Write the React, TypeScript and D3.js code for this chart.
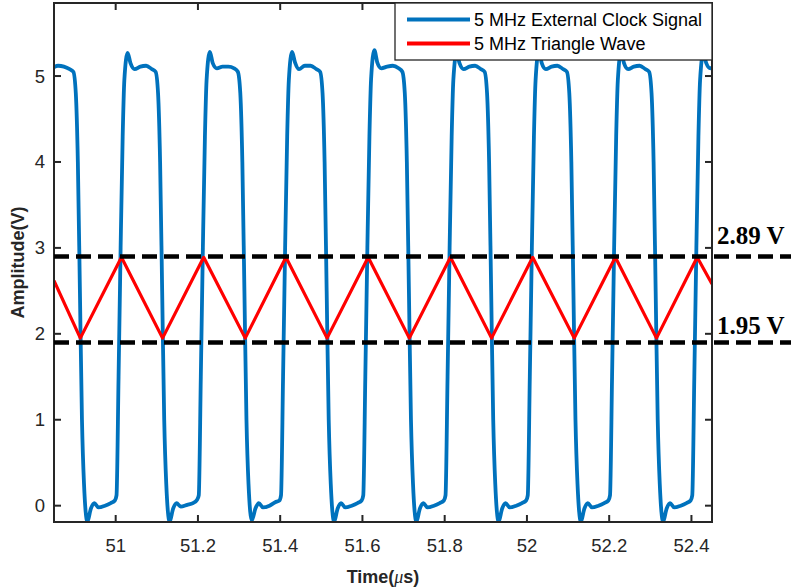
import React from "react";
import * as d3 from "d3";

const W = 791;
const H = 588;
const PLOT = { left: 54, right: 712, top: 3, bottom: 522 };

const xDomain: [number, number] = [50.85, 52.45];
const yDomain: [number, number] = [-0.19, 5.85];
const xTicks = [51, 51.2, 51.4, 51.6, 51.8, 52, 52.2, 52.4];
const xTickLabels = ["51", "51.2", "51.4", "51.6", "51.8", "52", "52.2", "52.4"];
const yTicks = [0, 1, 2, 3, 4, 5];
const yTickLabels = ["0", "1", "2", "3", "4", "5"];

const seriesNames = ["5 MHz External Clock Signal", "5 MHz Triangle Wave"];
const seriesColors = ["#0072BD", "#FF0000"];

const levelValues = [2.9, 1.9];
const levelLabels = ["2.89 V", "1.95 V"];

// [time (µs), amplitude (V)]
const clockSignal: [number, number][] = [
  [50.849, 5.1], [50.86, 5.12], [50.874, 5.11], [50.888, 5.08], [50.897, 5.05], [50.903, 4.8], [50.908, 4.0], [50.913, 2.5], [50.918, 1.0], [50.923, 0.25], [50.931, -0.18], [50.94, -0.03], [50.948, 0.03], [50.958, -0.02], [50.974, 0.0], [50.988, 0.03], [50.998, 0.06],
  [51.002, 0.12], [51.007, 1.5], [51.012, 3.0], [51.017, 4.3], [51.021, 4.95], [51.029, 5.27], [51.036, 5.15], [51.046, 5.08], [51.06, 5.11], [51.074, 5.12], [51.088, 5.08], [51.097, 5.05], [51.103, 4.8], [51.108, 4.0], [51.113, 2.5], [51.118, 1.0], [51.123, 0.25], [51.131, -0.18], [51.14, -0.03], [51.148, 0.03], [51.158, -0.01], [51.174, 0.01], [51.188, 0.03], [51.198, 0.07],
  [51.202, 0.12], [51.207, 1.5], [51.212, 3.0], [51.217, 4.3], [51.221, 4.95], [51.229, 5.28], [51.236, 5.15], [51.246, 5.09], [51.26, 5.11], [51.274, 5.11], [51.288, 5.09], [51.297, 5.05], [51.303, 4.8], [51.308, 4.0], [51.313, 2.5], [51.318, 1.0], [51.323, 0.25], [51.331, -0.17], [51.34, -0.03], [51.348, 0.03], [51.358, -0.02], [51.374, 0.0], [51.388, 0.04], [51.398, 0.06],
  [51.402, 0.12], [51.407, 1.5], [51.412, 3.0], [51.417, 4.3], [51.421, 4.95], [51.429, 5.28], [51.436, 5.16], [51.446, 5.08], [51.46, 5.12], [51.474, 5.12], [51.488, 5.08], [51.497, 5.05], [51.503, 4.8], [51.508, 4.0], [51.513, 2.5], [51.518, 1.0], [51.523, 0.25], [51.531, -0.18], [51.54, -0.03], [51.548, 0.03], [51.558, -0.02], [51.574, 0.0], [51.588, 0.03], [51.598, 0.06],
  [51.602, 0.12], [51.607, 1.5], [51.612, 3.0], [51.617, 4.3], [51.621, 4.96], [51.629, 5.3], [51.636, 5.16], [51.646, 5.09], [51.66, 5.11], [51.674, 5.12], [51.688, 5.09], [51.697, 5.05], [51.703, 4.8], [51.708, 4.0], [51.713, 2.5], [51.718, 1.0], [51.723, 0.25], [51.731, -0.18], [51.74, -0.03], [51.748, 0.03], [51.758, -0.02], [51.774, 0.0], [51.788, 0.03], [51.798, 0.06],
  [51.802, 0.12], [51.807, 1.5], [51.812, 3.0], [51.817, 4.3], [51.821, 4.95], [51.829, 5.27], [51.836, 5.15], [51.846, 5.08], [51.86, 5.11], [51.874, 5.12], [51.888, 5.08], [51.897, 5.05], [51.903, 4.8], [51.908, 4.0], [51.913, 2.5], [51.918, 1.0], [51.923, 0.25], [51.931, -0.18], [51.94, -0.03], [51.948, 0.03], [51.958, -0.02], [51.974, 0.0], [51.988, 0.03], [51.998, 0.06],
  [52.002, 0.12], [52.007, 1.5], [52.012, 3.0], [52.017, 4.3], [52.021, 4.95], [52.029, 5.29], [52.036, 5.15], [52.046, 5.08], [52.06, 5.11], [52.074, 5.12], [52.088, 5.08], [52.097, 5.05], [52.103, 4.8], [52.108, 4.0], [52.113, 2.5], [52.118, 1.0], [52.123, 0.25], [52.131, -0.18], [52.14, -0.03], [52.148, 0.03], [52.158, -0.02], [52.174, 0.0], [52.188, 0.03], [52.198, 0.06],
  [52.202, 0.12], [52.207, 1.5], [52.212, 3.0], [52.217, 4.3], [52.221, 4.95], [52.229, 5.28], [52.236, 5.15], [52.246, 5.08], [52.26, 5.11], [52.274, 5.12], [52.288, 5.08], [52.297, 5.05], [52.303, 4.8], [52.308, 4.0], [52.313, 2.5], [52.318, 1.0], [52.323, 0.25], [52.331, -0.18], [52.34, -0.03], [52.348, 0.03], [52.358, -0.02], [52.374, 0.0], [52.388, 0.03], [52.398, 0.06],
  [52.402, 0.12], [52.407, 1.5], [52.412, 3.0], [52.417, 4.3], [52.421, 4.95], [52.429, 5.27], [52.436, 5.15], [52.446, 5.09], [52.45, 5.1],
];

const triangleWave: [number, number][] = [
  [50.85, 2.62], [50.914, 1.95], [51.014, 2.89], [51.114, 1.95], [51.214, 2.89], [51.315, 1.95],
  [51.414, 2.89], [51.514, 1.95], [51.614, 2.89], [51.714, 1.95], [51.814, 2.89], [51.914, 1.95],
  [52.014, 2.89], [52.115, 1.95], [52.215, 2.89], [52.315, 1.95], [52.414, 2.89], [52.45, 2.58],
];

const SANS = "'Liberation Sans', Arial, Helvetica, sans-serif";
const SERIF = "'Liberation Serif', 'Times New Roman', serif";
const AXIS = "#262626";

export default function App() {
  const x = d3.scaleLinear().domain(xDomain).range([PLOT.left, PLOT.right]);
  const y = d3.scaleLinear().domain(yDomain).range([PLOT.bottom, PLOT.top]);

  const clockPath = d3
    .line<[number, number]>()
    .x((d) => x(d[0]))
    .y((d) => y(d[1]))
    .curve(d3.curveMonotoneX)(clockSignal) as string;
  const triPath = d3
    .line<[number, number]>()
    .x((d) => x(d[0]))
    .y((d) => y(d[1]))(triangleWave) as string;

  const tickLen = 7;
  const legendRows = [19.5, 43.5];

  return (
    <svg
      width={W}
      height={H}
      style={{ position: "absolute", left: 0, top: 0, background: "#fff" }}
    >
      <defs>
        <clipPath id="plotClip">
          <rect x={PLOT.left} y={PLOT.top} width={PLOT.right - PLOT.left} height={PLOT.bottom - PLOT.top} />
        </clipPath>
      </defs>
      <rect x={0} y={0} width={W} height={H} fill="#fff" />
      <g clipPath="url(#plotClip)">
        <path d={clockPath} fill="none" stroke={seriesColors[0]} strokeWidth={3.8} strokeLinejoin="round" />
        <path d={triPath} fill="none" stroke={seriesColors[1]} strokeWidth={3.2} strokeLinejoin="round" />
      </g>
      {/* axes box */}
      <rect
        x={PLOT.left}
        y={PLOT.top}
        width={PLOT.right - PLOT.left}
        height={PLOT.bottom - PLOT.top}
        fill="none"
        stroke={AXIS}
        strokeWidth={2}
      />
      {xTicks.map((t, i) => (
        <g key={"xt" + i}>
          <line x1={x(t)} x2={x(t)} y1={PLOT.bottom} y2={PLOT.bottom - tickLen} stroke={AXIS} strokeWidth={2} />
          <line x1={x(t)} x2={x(t)} y1={PLOT.top} y2={PLOT.top + tickLen} stroke={AXIS} strokeWidth={2} />
          <text x={x(t)} y={552} textAnchor="middle" fontFamily={SANS} fontSize={18.5} fill={AXIS}>
            {xTickLabels[i]}
          </text>
        </g>
      ))}
      {yTicks.map((t, i) => (
        <g key={"yt" + i}>
          <line x1={PLOT.left} x2={PLOT.left + tickLen} y1={y(t)} y2={y(t)} stroke={AXIS} strokeWidth={2} />
          <line x1={PLOT.right} x2={PLOT.right - tickLen} y1={y(t)} y2={y(t)} stroke={AXIS} strokeWidth={2} />
          <text x={45} y={y(t) + 6.5} textAnchor="end" fontFamily={SANS} fontSize={18.5} fill={AXIS}>
            {yTickLabels[i]}
          </text>
        </g>
      ))}
      {/* threshold lines */}
      {levelValues.map((v, i) => (
        <g key={"lv" + i}>
          <line
            x1={PLOT.left}
            x2={W}
            y1={y(v)}
            y2={y(v)}
            stroke="#000"
            strokeWidth={4.5}
            strokeDasharray="15 7"
          />
        </g>
      ))}
      <text x={717} y={244} fontFamily={SERIF} fontWeight="bold" fontSize={25} fill="#000">
        {levelLabels[0]}
      </text>
      <text x={717} y={334} fontFamily={SERIF} fontWeight="bold" fontSize={25} fill="#000">
        {levelLabels[1]}
      </text>
      {/* axis labels */}
      <text
        x={(PLOT.left + PLOT.right) / 2}
        y={583}
        textAnchor="middle"
        fontFamily={SANS}
        fontWeight="bold"
        fontSize={18}
        fill={AXIS}
      >
        Time(<tspan fontStyle="italic" fontWeight="normal" fontFamily={SERIF}>μ</tspan>s)
      </text>
      <text
        transform={`translate(24,${(PLOT.top + PLOT.bottom) / 2}) rotate(-90)`}
        textAnchor="middle"
        fontFamily={SANS}
        fontWeight="bold"
        fontSize={18}
        fill={AXIS}
      >
        Amplitude(V)
      </text>
      {/* legend */}
      <rect x={395} y={3} width={317} height={57} fill="#fff" stroke={AXIS} strokeWidth={1.3} />
      {seriesNames.map((name, i) => (
        <g key={"lg" + i}>
          <line x1={407} x2={470} y1={legendRows[i]} y2={legendRows[i]} stroke={seriesColors[i]} strokeWidth={4} />
          <text x={474} y={legendRows[i] + 6.8} fontFamily={SANS} fontSize={18} fill="#000">
            {name}
          </text>
        </g>
      ))}
    </svg>
  );
}
